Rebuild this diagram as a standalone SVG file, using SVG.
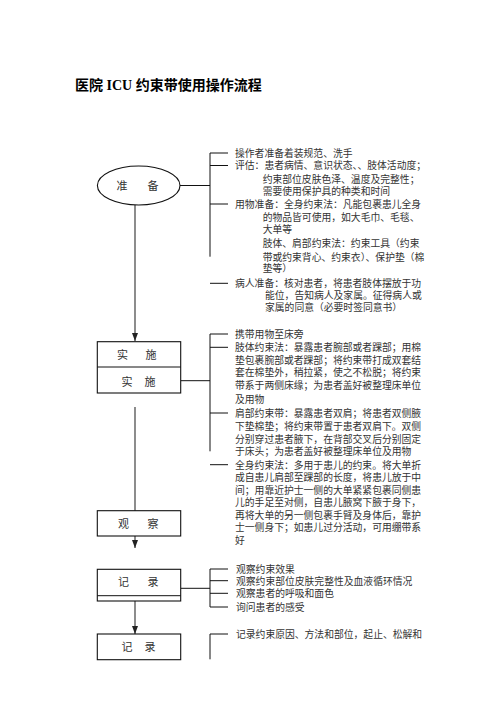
<svg xmlns="http://www.w3.org/2000/svg" width="496" height="702" viewBox="0 0 496 702">
<defs>
<marker id="ah" markerUnits="userSpaceOnUse" markerWidth="8" markerHeight="8" viewBox="0 0 8 8" refX="8" refY="4" orient="auto">
<path d="M0,1 L8,4 L0,7 Z" fill="#222"/>
</marker>
<style>
.t{font-family:"Liberation Serif","Noto Sans CJK SC",serif;font-size:9.8px;fill:#333}
.n{font-family:"Liberation Serif","Noto Sans CJK SC",serif;font-size:11px;fill:#333;text-anchor:middle}
.box{fill:#fff;stroke:#111;stroke-width:1.1}
.ln{stroke:#111;stroke-width:1;fill:none}
.flow{stroke:#808080;stroke-width:1.8;fill:none}
</style>
</defs>
<rect width="496" height="702" fill="#fff"/>
<text x="75" y="90" font-family="'Liberation Serif','Noto Sans CJK SC',serif" font-size="14" font-weight="bold" fill="#000">医院 ICU 约束带使用操作流程</text>

<g id="connectors">
<line class="flow" x1="135" y1="205" x2="135" y2="341" marker-end="url(#ah)"/>
<line class="flow" x1="135" y1="407" x2="135" y2="511"/>
<line class="flow" x1="135" y1="536" x2="135" y2="548" marker-end="url(#ah)"/>
<line class="flow" x1="135" y1="601" x2="135" y2="634" marker-end="url(#ah)"/>
<path class="ln" d="M180,185.5 H210 M210,153 V256.7 M210,153 H228 M210,165.5 H228 M210,204 H228 M210,283.3 H228"/>
<path class="ln" d="M181,380.7 H210 M210,334 V451.3 M210,334 H228 M210,347.3 H228 M210,413 H228 M210,464.7 H228"/>
<path class="ln" d="M181,588.3 H210 M210,569 V607 M210,569 H228 M210,580.7 H228 M210,593.3 H228 M210,607 H228"/>
<path class="ln" d="M210,634 V659.3 M210,634 H228"/>
</g>

<g id="node-prep">
<ellipse class="box" cx="138.7" cy="185.5" rx="41.3" ry="19.5"/>
<text class="n" y="189.5"><tspan x="122">准</tspan><tspan x="153">备</tspan></text>
</g>

<g id="node-impl">
<rect class="box" x="97.3" y="341.7" width="83.4" height="51.3"/>
<line class="ln" x1="97.3" y1="367" x2="180.7" y2="367"/>
<text class="n" y="359"><tspan x="122.5">实</tspan><tspan x="151">施</tspan></text>
<text class="n" y="385.7"><tspan x="127">实</tspan><tspan x="150">施</tspan></text>
</g>

<g id="node-observe">
<rect class="box" x="97.3" y="510.7" width="83.4" height="25.3"/>
<text class="n" y="528"><tspan x="123.5">观</tspan><tspan x="153">察</tspan></text>
</g>

<g id="node-record1">
<rect class="box" x="97.3" y="569.3" width="83.4" height="31.7"/>
<line class="ln" x1="97.3" y1="595.7" x2="180.7" y2="595.7"/>
<text class="n" y="586.3"><tspan x="123.5">记</tspan><tspan x="153">录</tspan></text>
</g>

<g id="node-record2">
<rect class="box" x="97.3" y="634" width="83.4" height="25.7"/>
<text class="n" y="651.3"><tspan x="127">记</tspan><tspan x="150">录</tspan></text>
</g>

<g id="text-prep">
<text class="t" x="235" y="156.7">操作者准备着装规范、洗手</text>
<text class="t" x="235" y="169.3">评估：患者病情、意识状态、、肢体活动度；</text>
<text class="t" x="262.7" y="183">约束部位皮肤色泽、温度及完整性；</text>
<text class="t" x="262.7" y="195">需要使用保护具的种类和时间</text>
<text class="t" x="235" y="208">用物准备：全身约束法：凡能包裹患儿全身</text>
<text class="t" x="262.7" y="221.3">的物品皆可使用，如大毛巾、毛毯、</text>
<text class="t" x="262.7" y="233.3">大单等</text>
<text class="t" x="262.7" y="247.3">肢体、肩部约束法：约束工具（约束</text>
<text class="t" x="262.7" y="260.7">带或约束背心、约束衣）、保护垫（棉</text>
<text class="t" x="262.7" y="272.3">垫等）</text>
<text class="t" x="235" y="287.3">病人准备：核对患者，将患者肢体摆放于功</text>
<text class="t" x="265" y="299">能位，告知病人及家属。征得病人或</text>
<text class="t" x="265" y="311.3">家属的同意（必要时签同意书）</text>
</g>

<g id="text-impl">
<text class="t" x="235" y="338">携带用物至床旁</text>
<text class="t" x="235" y="351.3">肢体约束法：暴露患者腕部或者踝部；用棉</text>
<text class="t" x="235" y="363.7">垫包裹腕部或者踝部；将约束带打成双套结</text>
<text class="t" x="235" y="376">套在棉垫外，稍拉紧，使之不松脱；将约束</text>
<text class="t" x="235" y="389.3">带系于两侧床缘；为患者盖好被整理床单位</text>
<text class="t" x="235" y="402.7">及用物</text>
<text class="t" x="235" y="417">肩部约束带：暴露患者双肩；将患者双侧腋</text>
<text class="t" x="235" y="430.3">下垫棉垫；将约束带置于患者双肩下。双侧</text>
<text class="t" x="235" y="442.7">分别穿过患者腋下，在背部交叉后分别固定</text>
<text class="t" x="235" y="455.3">于床头；为患者盖好被整理床单位及用物</text>
<text class="t" x="235" y="468.7">全身约束法：多用于患儿的约束。将大单折</text>
<text class="t" x="235" y="481.3">成自患儿肩部至踝部的长度，将患儿放于中</text>
<text class="t" x="235" y="493.7">间；用靠近护士一侧的大单紧紧包裹同侧患</text>
<text class="t" x="235" y="506">儿的手足至对侧，自患儿腋窝下腋于身下，</text>
<text class="t" x="235" y="518.7">再将大单的另一侧包裹手臂及身体后，靠护</text>
<text class="t" x="235" y="531.3">士一侧身下；如患儿过分活动，可用绷带系</text>
<text class="t" x="235" y="543.7">好</text>
</g>

<g id="text-observe">
<text class="t" x="236" y="573">观察约束效果</text>
<text class="t" x="236" y="584.7">观察约束部位皮肤完整性及血液循环情况</text>
<text class="t" x="236" y="597.3">观察患者的呼吸和面色</text>
<text class="t" x="236" y="610.7">询问患者的感受</text>
</g>

<g id="text-record">
<text class="t" x="236" y="638">记录约束原因、方法和部位，起止、松解和</text>
</g>
</svg>
